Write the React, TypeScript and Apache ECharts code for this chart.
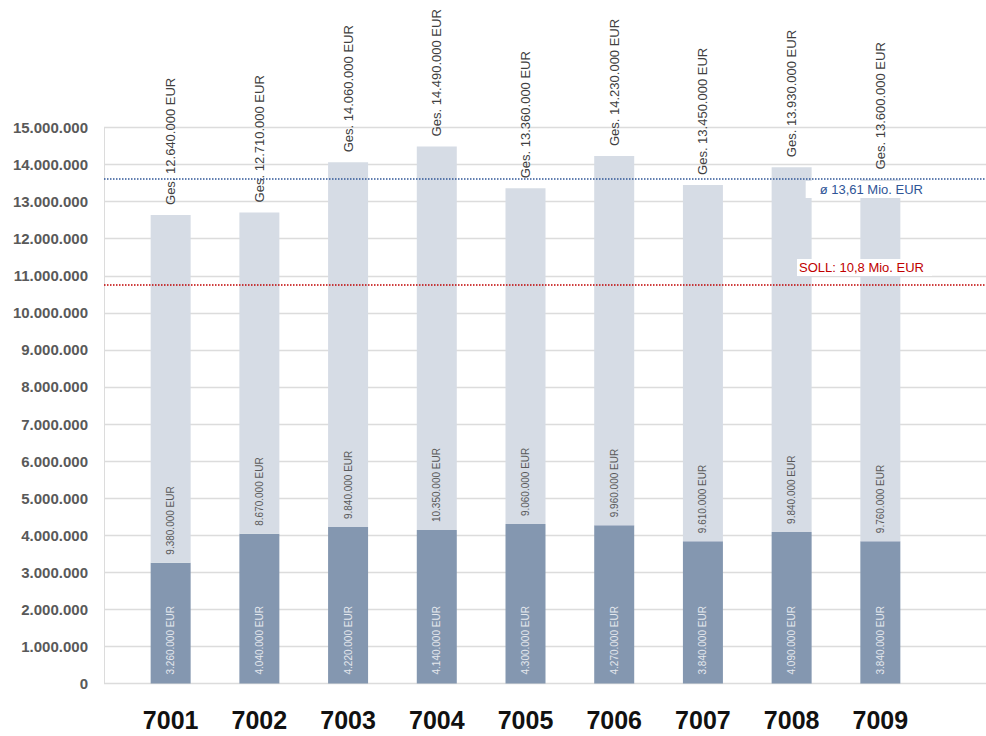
import React, { useEffect, useRef } from "react";
import * as echarts from "echarts";

const categories = ["7001", "7002", "7003", "7004", "7005", "7006", "7007", "7008", "7009"];
const baseValues = [3260000, 4040000, 4220000, 4140000, 4300000, 4270000, 3840000, 4090000, 3840000];
const addValues = [9380000, 8670000, 9840000, 10350000, 9060000, 9960000, 9610000, 9840000, 9760000];
const totals = [12640000, 12710000, 14060000, 14490000, 13360000, 14230000, 13450000, 13930000, 13600000];
const averageValue = 13610000;
const targetValue = 10750000;
const yMin = 0;
const yMax = 15000000;
const yInterval = 1000000;

const fmt = (n: number) => String(Math.round(n)).replace(/\B(?=(\d{3})+(?!\d))/g, ".");
const FONT = "'Liberation Sans', Arial, sans-serif";

export default function App() {
  const ref = useRef<HTMLDivElement>(null);
  useEffect(() => {
    document.body.style.margin = "0";
    const chart = echarts.init(ref.current!, null, { renderer: "svg" });
    const gridTop = 127.5;
    const gridBottom = 52.5;
    chart.setOption({
      animation: false,
      textStyle: { fontFamily: FONT },
      grid: [
        { left: 104, right: 0, top: gridTop, bottom: gridBottom },
        { left: 126.3, right: 61.3, top: gridTop, bottom: gridBottom },
      ],
      xAxis: [
        { type: "value", gridIndex: 0, min: 0, max: 1, show: false },
        {
          type: "category",
          gridIndex: 1,
          data: categories,
          axisLine: { show: false },
          axisTick: { show: false },
          axisLabel: { fontSize: 25, fontWeight: "bold", color: "#111", margin: 24, fontFamily: FONT },
        },
      ],
      yAxis: [
        {
          type: "value",
          gridIndex: 0,
          min: yMin,
          max: yMax,
          interval: yInterval,
          axisLine: { show: true, lineStyle: { color: "#dcdcdc", width: 1 } },
          axisTick: { show: false },
          splitLine: { show: true, lineStyle: { color: "#dcdcdc", width: 1.3 } },
          axisLabel: {
            formatter: (v: number) => fmt(v),
            fontSize: 15,
            fontWeight: "bold",
            color: "#595959",
            margin: 16,
            fontFamily: FONT,
          },
        },
        { type: "value", gridIndex: 1, min: yMin, max: yMax, interval: yInterval, show: false, splitLine: { show: false } },
      ],
      series: [
        {
          type: "bar",
          name: "Basis",
          xAxisIndex: 1,
          yAxisIndex: 1,
          stack: "a",
          barWidth: 40,
          data: baseValues,
          itemStyle: { color: "#8497b0" },
          label: {
            show: true,
            position: "insideBottom",
            rotate: 90,
            align: "left",
            verticalAlign: "middle",
            distance: 9,
            fontSize: 10,
            color: "#e4e8ee",
            fontFamily: FONT,
            formatter: (p: any) => fmt(p.value) + " EUR",
          },
        },
        {
          type: "bar",
          name: "Zusatz",
          xAxisIndex: 1,
          yAxisIndex: 1,
          stack: "a",
          barWidth: 40,
          data: addValues,
          itemStyle: { color: "#d6dce5" },
          label: {
            show: true,
            position: "insideBottom",
            rotate: 90,
            align: "left",
            verticalAlign: "middle",
            distance: 8,
            fontSize: 10,
            color: "#595959",
            fontFamily: FONT,
            formatter: (p: any) => fmt(p.value) + " EUR",
          },
        },
        {
          type: "bar",
          name: "Gesamt",
          xAxisIndex: 1,
          yAxisIndex: 1,
          barWidth: 40,
          barGap: "-100%",
          data: totals,
          itemStyle: { color: "rgba(0,0,0,0)" },
          label: {
            show: true,
            position: "top",
            rotate: 90,
            align: "left",
            verticalAlign: "middle",
            distance: 10,
            fontSize: 13,
            color: "#404040",
            fontFamily: FONT,
            formatter: (p: any) => "Ges. " + fmt(p.value) + " EUR",
          },
        },
        {
          type: "line",
          name: "Linien",
          xAxisIndex: 0,
          yAxisIndex: 0,
          data: [[0, 0]],
          symbol: "none",
          lineStyle: { opacity: 0 },
          silent: true,
          z: 5,
          markLine: {
            silent: true,
            symbol: ["none", "none"],
            z: 6,
            data: [
              {
                yAxis: averageValue,
                lineStyle: { color: "#2f5597", type: "dotted", width: 1.5 },
                label: {
                  show: true,
                  position: "insideEndBottom",
                  distance: [61, 2],
                  backgroundColor: "#ffffff",
                  padding: [2, 2, 2, 14],
                  color: "#2f5597",
                  fontSize: 13,
                  fontFamily: FONT,
                  formatter: (p: any) => "ø " + (p.value / 1e6).toFixed(2).replace(".", ",") + " Mio. EUR",
                },
              },
              {
                yAxis: targetValue,
                lineStyle: { color: "#c00000", type: "dotted", width: 1.5 },
                label: {
                  show: true,
                  position: "insideEndTop",
                  distance: [54, 9],
                  backgroundColor: "#ffffff",
                  padding: [2, 8, 2, 2],
                  color: "#c00000",
                  fontSize: 13,
                  fontFamily: FONT,
                  formatter: (p: any) => "SOLL: " + (p.value / 1e6).toFixed(1).replace(".", ",") + " Mio. EUR",
                },
              },
            ],
          },
        },
      ],
    });
    return () => chart.dispose();
  }, []);
  return <div ref={ref} style={{ width: 986, height: 736 }} />;
}
